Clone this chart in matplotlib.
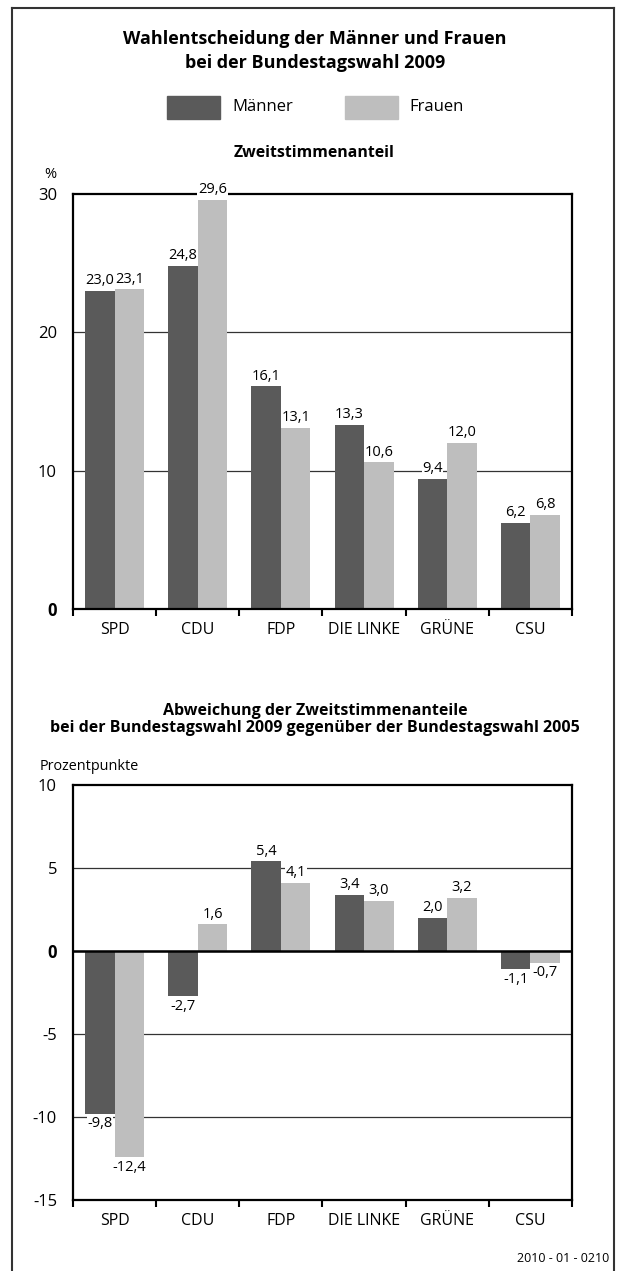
import matplotlib
matplotlib.use("Agg")
import matplotlib.pyplot as plt
from matplotlib.lines import Line2D
import numpy as np

plt.rcParams['font.family'] = ['Open Sans', 'DejaVu Sans']

parties = ["SPD", "CDU", "FDP", "DIE LINKE", "GRÜNE", "CSU"]
series_names = ["Männer", "Frauen"]
share_men = [23.0, 24.8, 16.1, 13.3, 9.4, 6.2]
share_women = [23.1, 29.6, 13.1, 10.6, 12.0, 6.8]
diff_men = [-9.8, -2.7, 5.4, 3.4, 2.0, -1.1]
diff_women = [-12.4, 1.6, 4.1, 3.0, 3.2, -0.7]
top_ticks = [0, 10, 20, 30]
bottom_ticks = [-15, -10, -5, 0, 5, 10]

C_MEN = "#5a5a5a"
C_WOMEN = "#bebebe"

W, H = 617, 1271
fig = plt.figure(figsize=(W / 100, H / 100), dpi=100)

def fx(x):
    return x / W

def fy(y):
    return 1 - y / H

# border
for xs, ys in [((12, 12), (8, 1275)), ((12, 614), (8, 8)), ((614, 614), (8, 1275))]:
    fig.add_artist(Line2D([fx(xs[0]), fx(xs[1])], [fy(ys[0]), fy(ys[1])],
                          color="#333333", lw=1.5, transform=fig.transFigure))

def fmt(v):
    return f"{v:.1f}".replace(".", ",")

def draw(ax, men, women, ticks, ylim):
    x = np.arange(len(parties))
    w = 0.355
    ax.bar(x - w / 2, men, w, color=C_MEN, zorder=2)
    ax.bar(x + w / 2, women, w, color=C_WOMEN, zorder=2)
    ax.set_xlim(-0.5, len(parties) - 0.5)
    ax.set_ylim(*ylim)
    ax.set_yticks(ticks)
    labels = ax.set_yticklabels([str(t) for t in ticks], fontsize=12)
    for t, lab in zip(ticks, labels):
        if t == 0:
            lab.set_fontweight("bold")
    ax.tick_params(axis="y", length=0, pad=11.5)
    for t in ticks:
        if t not in ylim:
            ax.axhline(t, color="#333333", lw=0.9, zorder=1)
    ax.set_xticks(x)
    ax.set_xticklabels(parties, fontsize=11.5)
    ax.set_xticks(np.arange(len(parties) + 1) - 0.5, minor=True)
    ax.tick_params(axis="x", which="major", length=0, pad=9.5)
    ax.tick_params(axis="x", which="minor", length=5, width=1.5, direction="out")
    for s in ax.spines.values():
        s.set_linewidth(1.6)
        s.set_zorder(3)
    for xi, vals in [(x - w / 2, men), (x + w / 2, women)]:
        for xx, v in zip(xi, vals):
            if v >= 0:
                ax.annotate(fmt(v), (xx, v), xytext=(0, 2), textcoords="offset points",
                            ha="center", va="bottom", fontsize=10.5, zorder=6,
                            annotation_clip=False,
                            bbox=dict(boxstyle="square,pad=0.04", fc="white", ec="none"))
            else:
                ax.annotate(fmt(v), (xx, v), xytext=(0, -2), textcoords="offset points",
                            ha="center", va="top", fontsize=10.5, zorder=6,
                            annotation_clip=False,
                            bbox=dict(boxstyle="square,pad=0.04", fc="white", ec="none"))

# top chart
ax1 = fig.add_axes([fx(73), fy(609), fx(572) - fx(73), fy(194) - fy(609)])
draw(ax1, share_men, share_women, top_ticks, (0, 30))

# bottom chart
ax2 = fig.add_axes([fx(73), fy(1200), fx(572) - fx(73), fy(785) - fy(1200)])
draw(ax2, diff_men, diff_women, bottom_ticks, (-15, 10))
ax2.axhline(0, color="black", lw=1.8, zorder=3)

# texts
fig.text(fx(315), fy(39), "Wahlentscheidung der Männer und Frauen", ha="center", va="center",
         fontsize=13, fontweight="bold")
fig.text(fx(315), fy(63), "bei der Bundestagswahl 2009", ha="center", va="center",
         fontsize=13, fontweight="bold")

# legend
for (x0, x1), name, col, tx in [((167, 220), series_names[0], C_MEN, 232),
                                 ((345, 398), series_names[1], C_WOMEN, 409)]:
    fig.add_artist(plt.Rectangle((fx(x0), fy(119)), fx(x1) - fx(x0), fy(96) - fy(119),
                                 color=col, transform=fig.transFigure))
    fig.text(fx(tx), fy(107), name, ha="left", va="center", fontsize=12)

fig.text(fx(314), fy(153), "Zweitstimmenanteil", ha="center", va="center",
         fontsize=11.4, fontweight="bold")
fig.text(fx(50), fy(175), "%", ha="center", va="center", fontsize=10.5)

fig.text(fx(315), fy(711), "Abweichung der Zweitstimmenanteile", ha="center", va="center",
         fontsize=11.5, fontweight="bold")
fig.text(fx(315), fy(728), "bei der Bundestagswahl 2009 gegenüber der Bundestagswahl 2005",
         ha="center", va="center", fontsize=11.5, fontweight="bold")
fig.text(fx(40), fy(767), "Prozentpunkte", ha="left", va="center", fontsize=10.4)
fig.text(fx(609), fy(1258), "2010 - 01 - 0210", ha="right", va="center", fontsize=9)

fig.savefig("out.png", dpi=100)
